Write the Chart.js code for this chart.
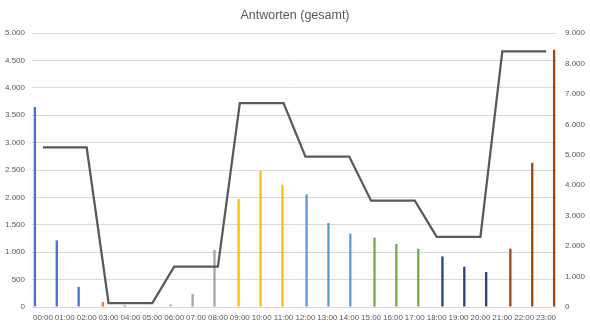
<!DOCTYPE html>
<html>
<head>
<meta charset="utf-8">
<script src="https://cdn.jsdelivr.net/npm/chart.js@4"></script>
<style>
  html, body { margin: 0; padding: 0; background: #fff; }
  #wrap { width: 590px; height: 329px; }
</style>
</head>
<body>
<div id="wrap"><canvas id="chart" width="590" height="329"></canvas></div>
<script>
const hours = ["00:00", "01:00", "02:00", "03:00", "04:00", "05:00", "06:00", "07:00",
  "08:00", "09:00", "10:00", "11:00", "12:00", "13:00", "14:00", "15:00",
  "16:00", "17:00", "18:00", "19:00", "20:00", "21:00", "22:00", "23:00"];

// answers per hour, one list per 3-hour block
const block0 = [3650, 1215, 365];
const block1 = [90, 30, 12];
const block2 = [47, 237, 1040];
const block3 = [1970, 2487, 2232];
const block4 = [2055, 1533, 1338];
const block5 = [1265, 1150, 1064];
const block6 = [923, 735, 639];
const block7 = [1064, 2630, 4695];
const blocks = [block0, block1, block2, block3, block4, block5, block6, block7];

// total per block (right axis)
const blockTotals = [5240, 5240, 5240, 131, 131, 131, 1324, 1324, 1324, 6695, 6695, 6695,
  4940, 4940, 4940, 3490, 3490, 3490, 2305, 2305, 2305, 8395, 8395, 8395];

const blockColors = ["#4472C4", "#ED7D31", "#A5A5A5", "#FFC000", "#5B9BD5", "#70AD47", "#264478", "#9E480E"];

const leftTicks = [0, 500, 1000, 1500, 2000, 2500, 3000, 3500, 4000, 4500, 5000];
const rightTicks = [0, 1000, 2000, 3000, 4000, 5000, 6000, 7000, 8000, 9000];

const fmt = v => String(v).replace(/\B(?=(\d{3})+(?!\d))/g, ".");
const txt = "#595959";
const fam = "'Liberation Sans', Arial, sans-serif";
const tickFont = { family: fam, size: 8 };

const barSets = blocks.map((b, i) => {
  const d = hours.map(() => null);
  b.forEach((v, j) => { d[i * 3 + j] = v; });
  return {
    type: "bar",
    label: "Block " + i,
    data: d,
    backgroundColor: blockColors[i],
    yAxisID: "y",
    order: 2,
    categoryPercentage: 0.84,
    barPercentage: 1.0,
  };
});

const data = {
  labels: hours,
  datasets: [
    {
      type: "line",
      label: "gesamt",
      data: blockTotals,
      borderColor: "#595959",
      borderWidth: 2.25,
      pointRadius: 0,
      fill: false,
      tension: 0,
      yAxisID: "y1",
      order: 0,
    },
    ...barSets,
  ],
};

const config = {
  type: "bar",
  data: data,
  options: {
    responsive: false,
    animation: false,
    layout: { padding: 0 },
    plugins: {
      legend: { display: false },
      tooltip: { enabled: false },
      title: {
        display: true,
        text: "Antworten (gesamt)",
        color: txt,
        font: { family: fam, size: 12.5, weight: "normal" },
        padding: { top: 8, bottom: 10 },
      },
    },
    scales: {
      x: {
        offset: true,
        grid: { display: false, drawTicks: false },
        border: { display: false },
        ticks: { color: txt, font: tickFont, padding: 6, maxRotation: 0, autoSkip: false },
        afterFit: s => { s.height = 22; },
      },
      y: {
        position: "left",
        min: 0,
        max: 5000,
        afterBuildTicks: s => { s.ticks = leftTicks.map(v => ({ value: v })); },
        grid: { color: "#D9D9D9", drawTicks: false },
        border: { display: false },
        ticks: { color: txt, font: tickFont, padding: 7, callback: v => fmt(v) },
        afterFit: s => { s.width = 32; },
      },
      y1: {
        position: "right",
        min: 0,
        max: 9000,
        afterBuildTicks: s => { s.ticks = rightTicks.map(v => ({ value: v })); },
        grid: { display: false, drawTicks: false },
        border: { display: false },
        ticks: { color: txt, font: tickFont, padding: 8, callback: v => fmt(v) },
        afterFit: s => { s.width = 33; },
      },
    },
  },
};

const ctx = document.getElementById("chart").getContext("2d");
const chart = new Chart(ctx, config);
</script>
</body>
</html>
